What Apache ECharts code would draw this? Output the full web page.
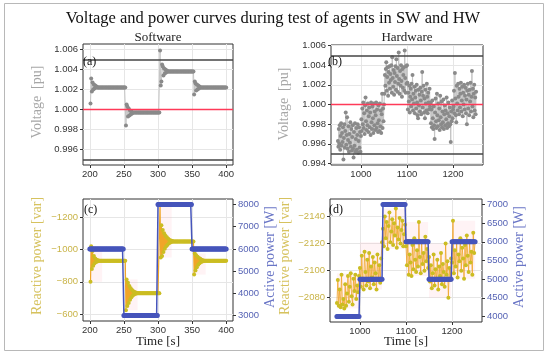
<!DOCTYPE html>
<html><head><meta charset="utf-8">
<script src="https://cdn.jsdelivr.net/npm/echarts@6/dist/echarts.min.js"></script>
<style>html,body{margin:0;padding:0;background:#fff}#c{width:550px;height:359px}</style>
</head><body><div id="c"></div>
<script>
// ---------- Software test (1 s sampling) ----------
const swStartVQ = 201;   // first sample time for voltage & reactive power
const swStartP = 200;    // first sample time for active power
const swVoltage = [
1.0006,1.0031,1.0018,1.0027,1.0020,1.0025,1.0021,1.0024,1.0022,1.0023,
1.0022,1.0022,1.0022,1.0022,1.0022,1.0022,1.0022,1.0022,1.0022,1.0022,
1.0022,1.0022,1.0022,1.0022,1.0022,1.0022,1.0022,1.0022,1.0022,1.0022,
1.0022,1.0022,1.0022,1.0022,1.0022,1.0022,1.0022,1.0022,1.0022,1.0022,
1.0022,1.0022,1.0022,1.0022,1.0022,1.0022,1.0022,1.0022,1.0022,1.0022,
1.0022,1.0022,
0.9984,1.0005,1.0003,0.9993,1.0001,0.9994,0.9999,0.9995,0.9998,0.9996,
0.9997,0.9997,0.9997,0.9997,0.9997,0.9997,0.9997,0.9997,0.9997,0.9997,
0.9997,0.9997,0.9997,0.9997,0.9997,0.9997,0.9997,0.9997,0.9997,0.9997,
0.9997,0.9997,0.9997,0.9997,0.9997,0.9997,0.9997,0.9997,0.9997,0.9997,
0.9997,0.9997,0.9997,0.9997,0.9997,0.9997,0.9997,0.9997,0.9997,0.9997,
1.0059,1.0024,1.0028,1.0045,1.0043,1.0034,1.0041,1.0036,1.0040,1.0037,
1.0039,1.0038,1.0038,1.0038,1.0038,1.0038,1.0038,1.0038,1.0038,1.0038,
1.0038,1.0038,1.0038,1.0038,1.0038,1.0038,1.0038,1.0038,1.0038,1.0038,
1.0038,1.0038,1.0038,1.0038,1.0038,1.0038,1.0038,1.0038,1.0038,1.0038,
1.0038,1.0038,1.0038,1.0038,1.0038,1.0038,1.0038,1.0038,1.0038,1.0038,
1.0015,1.0028,1.0026,1.0019,1.0025,1.0020,1.0024,1.0021,1.0023,
1.0022,1.0022,1.0022,1.0022,1.0022,1.0022,1.0022,1.0022,1.0022,1.0022,
1.0022,1.0022,1.0022,1.0022,1.0022,1.0022,1.0022,1.0022,1.0022,1.0022,
1.0022,1.0022,1.0022,1.0022,1.0022,1.0022,1.0022,1.0022,1.0022,1.0022,
1.0022,1.0022,1.0022,1.0022,1.0022,1.0022,1.0022,1.0022,1.0022
];
const swReactive = [
-800,-1020,-880,-990,-900,-960,-915,-945,-922,-937,
-926,-933,-929,-931,-930,-930,-930,-930,-930,-930,
-930,-930,-930,-930,-930,-930,-930,-930,-930,-930,
-930,-930,-930,-930,-930,-930,-930,-930,-930,-930,
-930,-930,-930,-930,-930,-930,-930,-930,-930,-930,
-930,-930,
-625,-815,-650,-795,-670,-775,-690,-760,-705,-750,
-715,-742,-722,-737,-726,-733,-728,-731,-730,-730,
-730,-730,-730,-730,-730,-730,-730,-730,-730,-730,
-730,-730,-730,-730,-730,-730,-730,-730,-730,-730,
-730,-730,-730,-730,-730,-730,-730,-730,-730,-730,
-1280,-950,-1150,-960,-1120,-985,-1100,-1005,-1085,-1020,
-1075,-1030,-1066,-1038,-1059,-1043,-1055,-1047,-1052,-1050,
-1050,-1050,-1050,-1050,-1050,-1050,-1050,-1050,-1050,-1050,
-1050,-1050,-1050,-1050,-1050,-1050,-1050,-1050,-1050,-1050,
-1050,-1050,-1050,-1050,-1050,-1050,-1050,-1050,-1050,-1050,
-845,-975,-870,-965,-890,-955,-905,-948,-915,-942,
-922,-936,-926,-933,-929,-930,-930,-930,
-930,-930,-930,-930,-930,-930,-930,-930,-930,-930,
-930,-930,-930,-930,-930,-930,-930,-930,-930,-930,
-930,-930,-930,-930,-930,-930,-930,-930,-930,-930
];
const swActive = [
6000,6000,6000,6000,6000,6000,6000,6000,6000,6000,
6000,6000,6000,6000,6000,6000,6000,6000,6000,6000,
6000,6000,6000,6000,6000,6000,6000,6000,6000,6000,
6000,6000,6000,6000,6000,6000,6000,6000,6000,6000,
6000,6000,6000,6000,6000,6000,6000,6000,6000,6000,
3000,3000,3000,3000,3000,3000,3000,3000,3000,3000,
3000,3000,3000,3000,3000,3000,3000,3000,3000,3000,
3000,3000,3000,3000,3000,3000,3000,3000,3000,3000,
3000,3000,3000,3000,3000,3000,3000,3000,3000,3000,
3000,3000,3000,3000,3000,3000,3000,3000,3000,3000,
8000,8000,8000,8000,8000,8000,8000,8000,8000,8000,
8000,8000,8000,8000,8000,8000,8000,8000,8000,8000,
8000,8000,8000,8000,8000,8000,8000,8000,8000,8000,
8000,8000,8000,8000,8000,8000,8000,8000,8000,8000,
8000,8000,8000,8000,8000,8000,8000,8000,8000,8000,
6000,6000,6000,6000,6000,6000,6000,6000,6000,6000,
6000,6000,6000,6000,6000,6000,6000,6000,6000,6000,
6000,6000,6000,6000,6000,6000,6000,6000,6000,6000,
6000,6000,6000,6000,6000,6000,6000,6000,6000,6000,
6000,6000,6000,6000,6000,6000,6000,6000,6000,6000,
6000
];
// sample index where each software control step begins, and length of its transient
const swSegmentStarts = [0, 52, 102, 152];
const swTransientLen = 18;

// ---------- Hardware test ----------
const hwStart = 950;
const hwVoltageStep = 1;  // seconds between voltage samples
const hwPowerStep = 2;    // seconds between power samples
const hwVoltage = [
0.9963,0.9957,0.9975,0.9960,0.9979,0.9954,0.9968,0.9981,0.9958,0.9971,
0.9962,0.9977,0.9944,0.9966,0.9980,0.9956,0.9973,0.9992,0.9959,0.9969,
0.9987,0.9955,0.9964,0.9978,0.9952,0.9970,0.9961,0.9982,0.9957,0.9975,
0.9953,0.9967,0.9979,0.9955,0.9946,0.9972,0.9958,0.9981,0.9952,0.9965,
0.9976,0.9954,0.9969,0.9980,0.9951,0.9963,0.9977,0.9956,0.9972,0.9952,
0.9968,
0.9985,0.9973,0.9996,0.9980,1.0002,0.9976,0.9991,0.9970,0.9999,1.0007,
0.9983,0.9974,0.9994,0.9979,1.0001,0.9972,0.9988,0.9997,0.9977,0.9992,
0.9969,1.0002,0.9982,0.9975,0.9998,0.9986,0.9971,1.0001,0.9979,0.9993,
0.9974,0.9989,1.0002,0.9976,0.9995,0.9981,0.9972,0.9999,0.9984,0.9973,
1.0001,0.9978,0.9994,0.9971,0.9990,1.0011,0.9976,0.9996,0.9983,1.0000,
1.0011,1.0030,1.0019,1.0036,1.0043,1.0014,1.0028,1.0038,1.0009,1.0033,
1.0022,1.0039,1.0016,1.0031,1.0025,1.0040,1.0012,1.0048,1.0027,1.0018,
1.0035,1.0010,1.0032,1.0023,1.0039,1.0015,1.0046,1.0029,1.0013,1.0037,
1.0021,1.0053,1.0026,1.0011,1.0034,1.0019,1.0040,1.0024,1.0008,1.0036,
1.0017,1.0030,1.0038,1.0014,1.0055,1.0027,1.0012,1.0039,1.0021,1.0040,
1.0022,0.9995,1.0012,1.0003,1.0019,0.9992,1.0008,1.0016,0.9998,1.0021,
1.0005,1.0030,0.9994,1.0011,1.0001,1.0018,0.9991,1.0007,1.0014,0.9996,
1.0020,1.0002,0.9989,0.9986,1.0015,0.9999,1.0010,0.9993,1.0017,1.0004,
0.9990,1.0013,1.0033,0.9997,1.0009,1.0019,0.9992,1.0006,0.9986,1.0015,
1.0001,0.9994,1.0021,1.0008,0.9991,1.0012,1.0002,0.9995,1.0016,0.9998,
1.0002,0.9981,0.9995,0.9977,1.0004,0.9986,0.9975,0.9998,0.9979,0.9965,
0.9992,1.0006,0.9983,0.9976,1.0011,0.9989,0.9978,1.0001,0.9984,0.9996,
0.9974,1.0009,0.9987,0.9980,1.0003,0.9977,0.9993,0.9982,1.0005,0.9975,
0.9990,0.9999,0.9979,0.9994,0.9985,1.0007,0.9976,0.9991,0.9981,1.0002,
0.9978,0.9988,0.9997,0.9980,0.9962,0.9993,0.9983,1.0004,0.9986,0.9995,
0.9998,1.0014,0.9991,1.0032,1.0006,0.9989,0.9982,1.0019,1.0001,0.9994,
1.0021,1.0008,0.9990,1.0016,0.9997,1.0011,1.0022,0.9993,1.0004,1.0018,
0.9988,1.0012,1.0000,1.0020,0.9995,1.0009,1.0017,0.9991,1.0005,0.9980,
1.0014,1.0021,0.9996,1.0010,0.9989,1.0015,1.0003,1.0022,0.9993,1.0008,
1.0034,0.9998,1.0016,0.9987,1.0011,1.0020,0.9994,1.0007,0.9990,1.0013
];
const hwReactive = [
-2076,-2093,-2074,-2086,-2073,-2097,-2075,-2079,-2072,-2090,
-2074,-2083,-2096,-2077,-2088,-2098,-2081,-2075,-2094,-2085,
-2097,-2079,-2089,-2084,-2096,
-2102,-2088,-2111,-2094,-2086,-2114,-2099,-2089,-2108,-2092,
-2113,-2087,-2103,-2095,-2110,-2090,-2106,-2098,-2086,-2112,
-2093,-2104,-2091,-2109,-2121,
-2131,-2118,-2140,-2124,-2136,-2116,-2133,-2143,-2121,-2129,
-2138,-2119,-2135,-2126,-2146,-2117,-2132,-2123,-2139,-2120,
-2130,-2137,-2118,-2127,-2134,
-2118,-2104,-2122,-2097,-2112,-2106,-2096,-2119,-2101,-2124,
-2108,-2099,-2115,-2103,-2136,-2110,-2098,-2121,-2105,-2113,
-2100,-2125,-2107,-2116,-2102,
-2110,-2092,-2104,-2087,-2098,-2112,-2089,-2101,-2094,-2108,
-2086,-2103,-2096,-2113,-2090,-2105,-2099,-2088,-2120,-2097,
-2107,-2080,-2102,-2093,-2109,
-2106,-2137,-2098,-2115,-2103,-2121,-2095,-2112,-2107,-2124,
-2100,-2117,-2109,-2094,-2119,-2104,-2126,-2111,-2099,-2122,
-2106,-2114,-2097,-2128,-2113,-2121
];
const hwActive = [
4000,4000,4000,4000,4000,4000,4000,4000,4000,4000,
4000,4000,4000,4000,4000,4000,4000,4000,4000,4000,
4000,4000,4000,4000,4000,
5000,5000,5000,5000,5000,5000,5000,5000,5000,5000,
5000,5000,5000,5000,5000,5000,5000,5000,5000,5000,
5000,5000,5000,5000,5000,
7000,7000,7000,7000,7000,7000,7000,7000,7000,7000,
7000,7000,7000,7000,7000,7000,7000,7000,7000,7000,
7000,7000,7000,7000,7000,
6000,6000,6000,6000,6000,6000,6000,6000,6000,6000,
6000,6000,6000,6000,6000,6000,6000,6000,6000,6000,
6000,6000,6000,6000,6000,
5000,5000,5000,5000,5000,5000,5000,5000,5000,5000,
5000,5000,5000,5000,5000,5000,5000,5000,5000,5000,
5000,5000,5000,5000,5000,
6000,6000,6000,6000,6000,6000,6000,6000,6000,6000,
6000,6000,6000,6000,6000,6000,6000,6000,6000,6000,
6000,6000,6000,6000,6000,6000
];
// sample index where each hardware set-point step begins (power arrays)
const hwSegmentStarts = [0, 25, 50, 75, 100, 125, 151];

// ---------- tick labels ----------
const swTimeTicks = [200, 250, 300, 350, 400];
const hwTimeTicks = [1000, 1100, 1200];
const swVoltTicks = [0.996, 0.998, 1.000, 1.002, 1.004, 1.006];
const hwVoltTicks = [0.994, 0.996, 0.998, 1.000, 1.002, 1.004, 1.006];
const swQTicks = [-1200, -1000, -800, -600];
const swPTicks = [3000, 4000, 5000, 6000, 7000, 8000];
const hwQTicks = [-2140, -2120, -2100, -2080];
const hwPTicks = [4000, 4500, 5000, 5500, 6000, 6500, 7000];
const voltLimits = [1.005, 0.995];
const voltNominal = 1.0;

// ---------- build ----------
const pairs = (arr, start, step) => arr.map((v, i) => [start + i * step, v]);
const TICKFONT = 'Liberation Sans';
const SERIF = 'Liberation Serif';
const minus = v => String(v).replace('-', '\u2212');

function xAx(g, min, max, ticks) {
  return {type:'value', gridIndex:g, min:min, max:max,
    axisLine:{show:false},
    axisTick:{show:true, customValues:ticks, length:3, lineStyle:{color:'#333'}},
    axisLabel:{customValues:ticks, margin:4, color:'#333', fontSize:9.5, fontFamily:TICKFONT,
      formatter: v => String(v)},
    splitLine:{show:true, lineStyle:{color:'#e6e6e6', width:1}}};
}
function yAx(g, min, max, ticks, opts) {
  const o = Object.assign({pos:'left', color:'#333', fmt:null, inverse:false, split:true}, opts||{});
  return {type:'value', gridIndex:g, min:min, max:max, position:o.pos, inverse:o.inverse,
    axisLine:{show:false},
    axisTick:{show:true, customValues:ticks, length:3, lineStyle:{color:'#333'}},
    axisLabel:{customValues:ticks, margin:5, color:o.color, fontSize:9.5, fontFamily:TICKFONT,
      formatter: o.fmt || (v => minus(v))},
    splitLine:{show:o.split, lineStyle:{color:'#e6e6e6', width:1}}};
}

const gridStyle = {show:true, borderColor:'#333', borderWidth:1, backgroundColor:'rgba(0,0,0,0)', containLabel:false};
const QCOL = '#cbbd22', QLINE = '#f0a528', PCOL = '#4655bb', VCOL = '#8a8a8a', VLINE = '#c4c4c4';
const BAND = 'rgba(255,160,180,0.13)';

function limitLines() {
  return {
    symbol:['none','none'], silent:true, label:{show:false}, animation:false, precision:4, z:5,
    data:[
      {name:'upper', yAxis:voltLimits[0], lineStyle:{color:'#444444', width:1.5, type:'solid'}},
      {name:'lower', yAxis:voltLimits[1], lineStyle:{color:'#444444', width:1.5, type:'solid'}},
      {name:'nominal', yAxis:voltNominal, lineStyle:{color:'#ff3a58', width:1.4, type:'solid', opacity:1}}
    ]
  };
}

// light envelope (min..max) of the software transients
const swBands = swSegmentStarts.map(s => {
  const seg = swReactive.slice(s, s + swTransientLen);
  return [{xAxis: swStartVQ + s, yAxis: Math.min(...seg)},
          {xAxis: swStartVQ + s + swTransientLen - 1, yAxis: Math.max(...seg)}];
});
// light envelope (min..max) of each hardware step
const hwBands = hwSegmentStarts.slice(0, -1).map((s, k) => {
  const e = hwSegmentStarts[k + 1];
  const seg = hwReactive.slice(s, e);
  return [{xAxis: hwStart + s * hwPowerStep, yAxis: Math.min(...seg)},
          {xAxis: hwStart + (e - 1) * hwPowerStep, yAxis: Math.max(...seg)}];
});

function txt(x, y, s, size, color, rot, align) {
  return {type:'text', x:x, y:y, rotation: rot||0, z:100,
    style:{text:s, fontFamily:SERIF, fontSize:size, fill:color, textAlign: align||'center', textVerticalAlign:'middle'}};
}

const option = {
  animation:false,
  backgroundColor:'#fff',
  grid:[
    Object.assign({left:83, top:44, width:150, height:121}, gridStyle),
    Object.assign({left:331, top:45, width:152, height:120}, gridStyle),
    Object.assign({left:83, top:199, width:150, height:122}, gridStyle),
    Object.assign({left:330, top:199, width:152, height:123}, gridStyle)
  ],
  xAxis:[
    xAx(0, 190, 410, swTimeTicks),
    xAx(1, 935, 1265, hwTimeTicks),
    xAx(2, 190, 410, swTimeTicks),
    xAx(3, 935, 1265, hwTimeTicks)
  ],
  yAxis:[
    yAx(0, 0.99445, 1.00655, swVoltTicks, {fmt: v => v.toFixed(3)}),
    yAx(1, 0.99385, 1.00605, hwVoltTicks, {fmt: v => v.toFixed(3)}),
    yAx(2, -1312, -558, swQTicks, {inverse:true, color:'#c9b448'}),
    yAx(2, 2750, 8250, swPTicks, {pos:'right', color:'#5663b5', split:false}),
    yAx(3, -2153, -2062, hwQTicks, {inverse:true, color:'#c9b448'}),
    yAx(3, 3850, 7150, hwPTicks, {pos:'right', color:'#5663b5', split:false})
  ],
  series:[
    {type:'line', xAxisIndex:0, yAxisIndex:0, data:pairs(swVoltage, swStartVQ, 1),
     symbol:'circle', symbolSize:4, showAllSymbol:true,
     itemStyle:{color:VCOL}, lineStyle:{color:VLINE, width:1}, markLine:limitLines(), z:2},
    {type:'line', xAxisIndex:1, yAxisIndex:1, data:pairs(hwVoltage, hwStart, hwVoltageStep),
     symbol:'circle', symbolSize:4, showAllSymbol:true,
     itemStyle:{color:VCOL}, lineStyle:{color:VLINE, width:1}, markLine:limitLines(), z:2},
    {type:'line', xAxisIndex:2, yAxisIndex:2, data:pairs(swReactive, swStartVQ, 1),
     symbol:'circle', symbolSize:4, showAllSymbol:true,
     itemStyle:{color:QCOL}, lineStyle:{color:QLINE, width:1.2}, z:2,
     markArea:{silent:true, itemStyle:{color:BAND}, data:swBands}},
    {type:'line', xAxisIndex:2, yAxisIndex:3, data:pairs(swActive, swStartP, 1),
     symbol:'circle', symbolSize:5, showAllSymbol:true,
     itemStyle:{color:PCOL}, lineStyle:{color:PCOL, width:1.5}, z:3},
    {type:'line', xAxisIndex:3, yAxisIndex:4, data:pairs(hwReactive, hwStart, hwPowerStep),
     symbol:'circle', symbolSize:4, showAllSymbol:true,
     itemStyle:{color:QCOL}, lineStyle:{color:QLINE, width:0.8}, z:2,
     markArea:{silent:true, itemStyle:{color:BAND}, data:hwBands}},
    {type:'line', xAxisIndex:3, yAxisIndex:5, data:pairs(hwActive, hwStart, hwPowerStep),
     symbol:'circle', symbolSize:5, showAllSymbol:true,
     itemStyle:{color:PCOL}, lineStyle:{color:PCOL, width:1.5}, z:3}
  ],
  graphic:[
    {type:'rect', shape:{x:4.5, y:3.5, width:539, height:347}, style:{fill:'none', stroke:'#b8b8b8', lineWidth:1}, z:0, silent:true},
    txt(273, 19, 'Voltage and power curves during test of agents in SW and HW', 16.5, '#111'),
    txt(158, 38, 'Software', 13, '#222'),
    txt(407, 38, 'Hardware', 13, '#222'),
    txt(37, 102, 'Voltage  [pu]', 14, '#a6a6a6', Math.PI/2),
    txt(284, 104, 'Voltage  [pu]', 14, '#a6a6a6', Math.PI/2),
    txt(37, 256, 'Reactive power [var]', 14, '#d6c25e', Math.PI/2),
    txt(285, 256, 'Reactive power [var]', 14, '#d6c25e', Math.PI/2),
    txt(270, 257, 'Active power [W]', 14, '#6a76c6', Math.PI/2),
    txt(519, 257, 'Active power [W]', 14, '#6a76c6', Math.PI/2),
    txt(158, 342, 'Time [s]', 13, '#222'),
    txt(406, 342, 'Time [s]', 13, '#222'),
    txt(83, 62, '(a)', 12, '#111', 0, 'left'),
    txt(328, 62, '(b)', 12, '#111', 0, 'left'),
    txt(84, 210, '(c)', 12, '#111', 0, 'left'),
    txt(329, 210, '(d)', 12, '#111', 0, 'left')
  ]
};
const chart = echarts.init(document.getElementById('c'));
chart.setOption(option);
</script></body></html>
